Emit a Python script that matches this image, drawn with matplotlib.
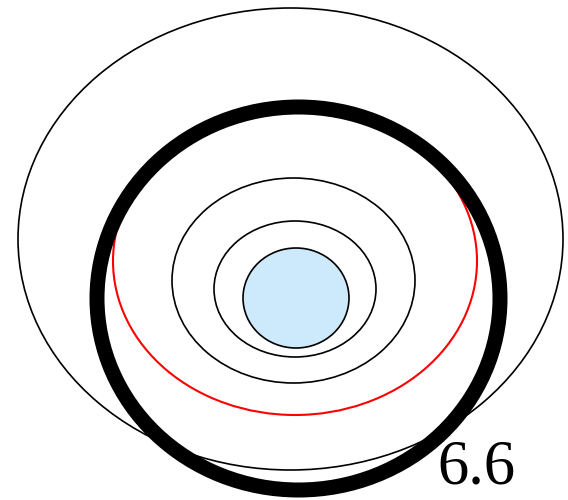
import matplotlib
matplotlib.use("Agg")
import matplotlib.pyplot as plt
from matplotlib.patches import Ellipse

# ellipse geometry in pixel units (y grows downward)
centers_x = [290.5, 295, 293.5, 295, 296, 298.5]
centers_y = [239, 261, 280.5, 289, 298, 298.5]
widths = [545, 364, 243, 162, 106, 403]
heights = [462, 308, 205, 136, 100, 383]
edge_colors = ["black", "red", "black", "black", "black", "black"]
face_colors = ["none", "none", "none", "none", "#cdeafc", "none"]
line_widths = [1.2, 1.5, 1.2, 1.2, 1.2, 10.8]

label_text = "6.6"
label_x = 437
label_y = 483

fig = plt.figure(figsize=(5.68, 5.0), dpi=100)
ax = fig.add_axes([0, 0, 1, 1])
ax.set_xlim(0, 568)
ax.set_ylim(500, 0)
ax.set_aspect("equal")
ax.axis("off")

for i in range(len(widths)):
    e = Ellipse((centers_x[i], centers_y[i]), widths[i], heights[i],
                edgecolor=edge_colors[i], facecolor=face_colors[i],
                linewidth=line_widths[i], zorder=i + 1)
    ax.add_patch(e)

ax.text(label_x, label_y, label_text, fontsize=45, family="Liberation Serif",
        ha="left", va="baseline", color="black", zorder=10)

fig.savefig("out.png", dpi=100)
